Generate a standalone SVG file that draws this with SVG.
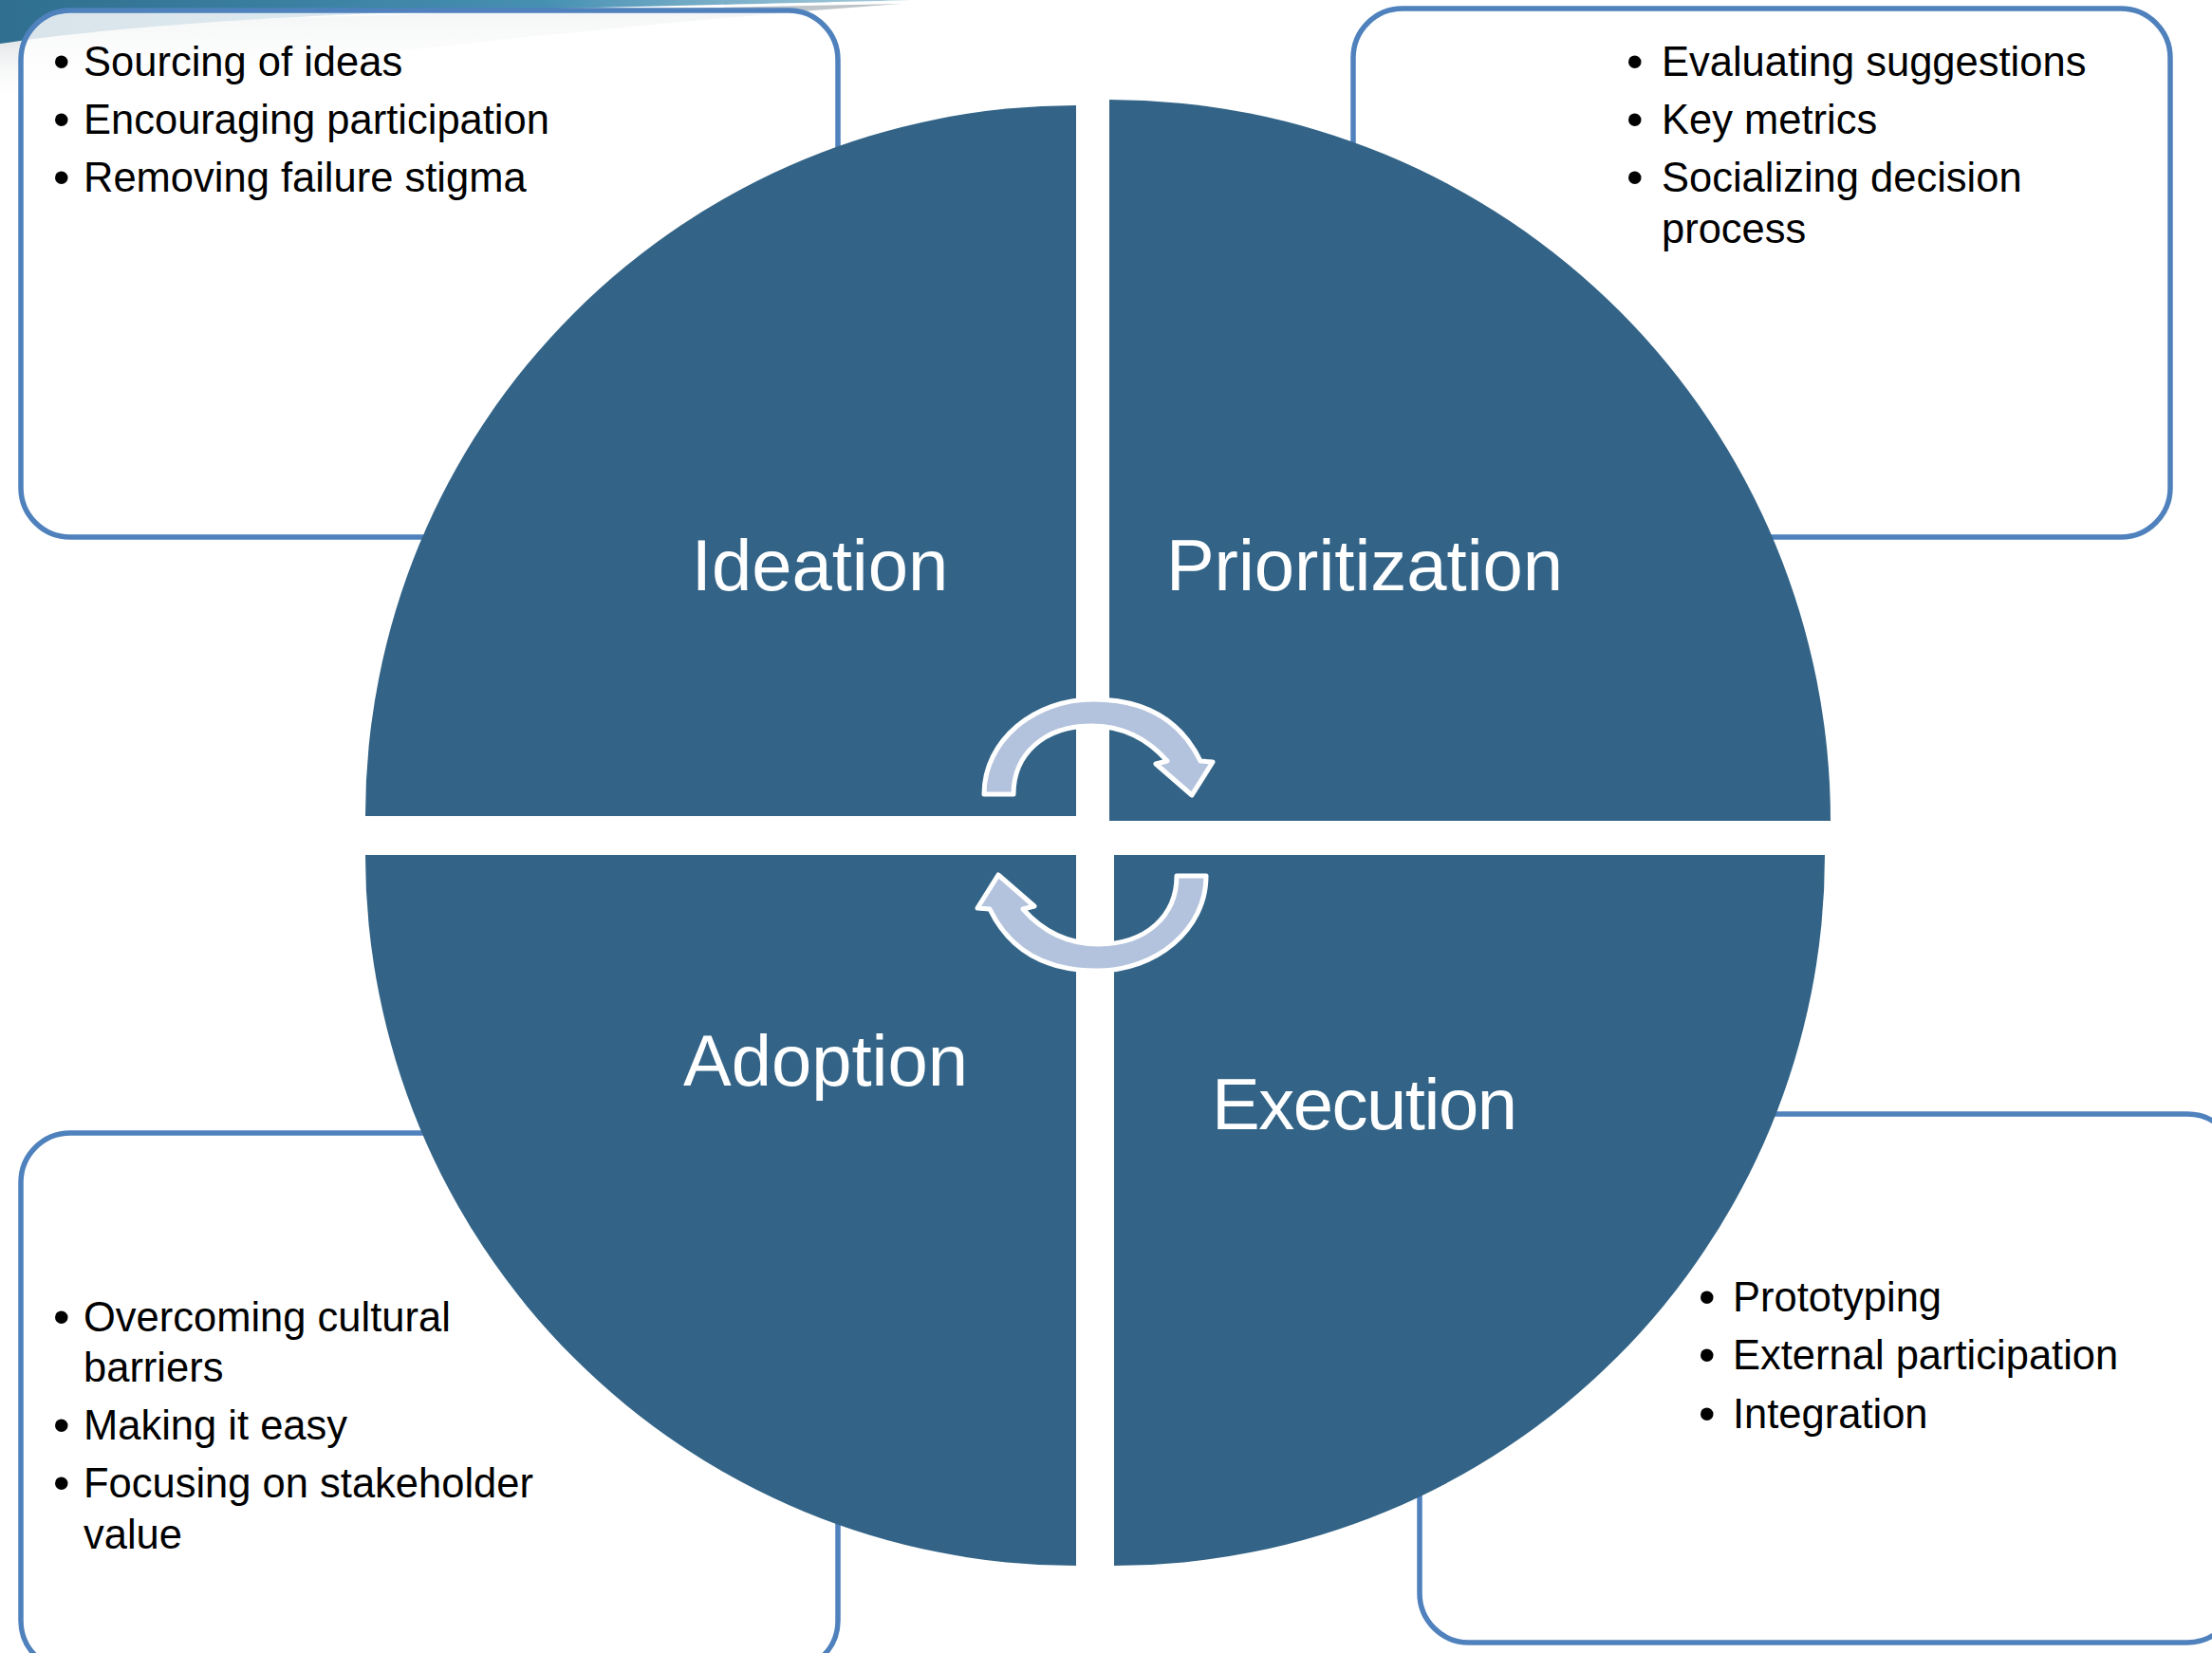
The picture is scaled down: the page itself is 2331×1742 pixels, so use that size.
<svg xmlns="http://www.w3.org/2000/svg" width="2331" height="1742" viewBox="0 0 2331 1742">
<style>
.box{fill:#ffffff;fill-opacity:0.82;stroke:#4f81bd;stroke-width:5.5}
.quad{fill:#336487}
.lbl{font-family:"Liberation Sans",Arial,sans-serif;font-size:76px;fill:#ffffff;text-anchor:middle}
.txt{font-family:"Liberation Sans",Arial,sans-serif;font-size:43.5px;fill:#000000}
.bul{font-family:"Liberation Sans",Arial,sans-serif;font-size:50px;fill:#000000}
.arr{fill:#b4c3dd;stroke:#ffffff;stroke-width:5;stroke-linejoin:round}
</style>
<defs>
<linearGradient id="teal" x1="0" y1="0" x2="1" y2="0">
<stop offset="0" stop-color="#2f6e8e"/>
<stop offset="0.6" stop-color="#4690b2"/>
<stop offset="1" stop-color="#6fa9c4" stop-opacity="0.6"/>
</linearGradient>
<linearGradient id="haze" x1="0" y1="0" x2="0" y2="1">
<stop offset="0" stop-color="#b9c0c4"/>
<stop offset="1" stop-color="#ffffff" stop-opacity="0"/>
</linearGradient>
</defs>
<rect x="0" y="0" width="2331" height="1742" fill="#ffffff"/>
<g id="background">
<path d="M0,30 C150,24 400,14 700,9 L950,4 C700,22 300,62 0,110 Z" fill="url(#haze)"/>
<path d="M0,0 H960 C820,4 600,8 400,14 C200,22 80,34 0,46 Z" fill="url(#teal)"/>
</g>
<g id="box-ideation">
<rect class="box" x="22" y="11" width="861" height="555" rx="52"/>
<text class="bul" x="56" y="82">•</text><text class="txt" x="88" y="80">Sourcing of ideas</text>
<text class="bul" x="56" y="143">•</text><text class="txt" x="88" y="141">Encouraging participation</text>
<text class="bul" x="56" y="204">•</text><text class="txt" x="88" y="202">Removing failure stigma</text>
</g>
<g id="box-prioritization">
<rect class="box" x="1426" y="9" width="861" height="557" rx="52"/>
<text class="bul" x="1714" y="82">•</text><text class="txt" x="1751" y="80">Evaluating suggestions</text>
<text class="bul" x="1714" y="143">•</text><text class="txt" x="1751" y="141">Key metrics</text>
<text class="bul" x="1714" y="204">•</text><text class="txt" x="1751" y="202">Socializing decision</text>
<text class="txt" x="1751" y="256">process</text>
</g>
<g id="box-adoption">
<rect class="box" x="22" y="1194" width="861" height="566" rx="52"/>
<text class="bul" x="56" y="1405">•</text><text class="txt" x="88" y="1403">Overcoming cultural</text>
<text class="txt" x="88" y="1456">barriers</text>
<text class="bul" x="56" y="1519">•</text><text class="txt" x="88" y="1517">Making it easy</text>
<text class="bul" x="56" y="1580">•</text><text class="txt" x="88" y="1578">Focusing on stakeholder</text>
<text class="txt" x="88" y="1632">value</text>
</g>
<g id="box-execution">
<rect class="box" x="1496" y="1174" width="861" height="557" rx="52"/>
<text class="bul" x="1790" y="1384">•</text><text class="txt" x="1826" y="1382">Prototyping</text>
<text class="bul" x="1790" y="1445">•</text><text class="txt" x="1826" y="1443">External participation</text>
<text class="bul" x="1790" y="1507">•</text><text class="txt" x="1826" y="1505">Integration</text>
</g>
<g id="ideation">
<path class="quad" d="M1134,860 H385 A749,749 0 0 1 1134,111 Z"/>
<text class="lbl" x="864" y="622">Ideation</text>
</g>
<g id="prioritization">
<path class="quad" d="M1169,865 V105 A760,760 0 0 1 1929,865 Z"/>
<text class="lbl" x="1438" y="622">Prioritization</text>
</g>
<g id="adoption">
<path class="quad" d="M1134,901 H385 A749,749 0 0 0 1134,1650 Z"/>
<text class="lbl" x="870" y="1144">Adoption</text>
</g>
<g id="execution">
<path class="quad" d="M1174,901 V1650 A749,749 0 0 0 1923,901 Z"/>
<text class="lbl" x="1438" y="1190" textLength="322">Execution</text>
</g>
<g id="connectors">
<path id="arrow-top" class="arr" d="M1037,837 C1037,780 1090,737 1152,737 C1195,737 1240,750 1265,802 L1278,803 L1256,838 L1218,805 L1230,802 C1215,785 1190,765 1150,765 C1100,765 1068,795 1068,837 Z"/>
<path id="arrow-bottom" class="arr" transform="rotate(180 1154 880)" d="M1037,837 C1037,780 1090,737 1152,737 C1195,737 1240,750 1265,802 L1278,803 L1256,838 L1218,805 L1230,802 C1215,785 1190,765 1150,765 C1100,765 1068,795 1068,837 Z"/>
</g>
</svg>
